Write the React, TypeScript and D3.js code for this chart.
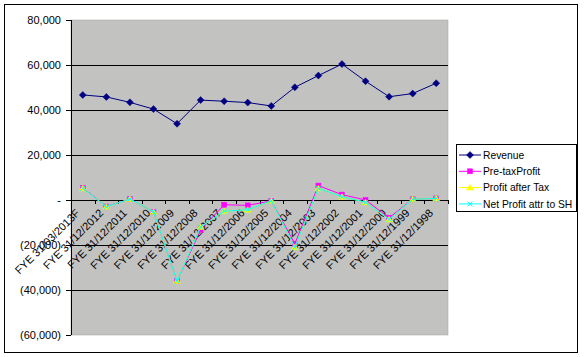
import React from "react";
import * as d3 from "d3";

const categories = [
  "FYE 31/03/2013F", "FYE 31/12/2012", "FYE 31/12/2011", "FYE 31/12/2010",
  "FYE 31/12/2009", "FYE 31/12/2008", "FYE 31/12/2007", "FYE 31/12/2006",
  "FYE 31/12/2005", "FYE 31/12/2004", "FYE 31/12/2003", "FYE 31/12/2002",
  "FYE 31/12/2001", "FYE 31/12/2000", "FYE 31/12/1999", "FYE 31/12/1998",
];
const revenue = [46700, 45800, 43400, 40400, 33900, 44400, 43900, 43300, 41800, 50100, 55300, 60400, 52800, 45900, 47300, 51900];
const preTaxProfit = [5400, -2900, 400, -5200, -36000, -13300, -2100, -2400, -400, -19400, 6400, 2400, 0, -7900, 300, 700];
const profitAfterTax = [5200, -3000, 400, -5200, -36000, -12000, -5000, -4300, -400, -21000, 5200, 1500, -1000, -8600, 300, 700];
const netProfitSH = [5200, -3000, 400, -5200, -36000, -12000, -5000, -4300, -400, -21000, 5200, 1500, -1000, -8600, 300, 700];
const yTicks = [80000, 60000, 40000, 20000, 0, -20000, -40000, -60000];

const seriesNames = ["Revenue", "Pre-taxProfit", "Profit after Tax", "Net Profit attr to SH"];
const seriesColors = ["#000080", "#FF00FF", "#FFFF00", "#00FFFF"];
const seriesMarkers = ["diamond", "square", "triangle", "x"];

const W = 584, H = 357;
const plot = { left: 71, right: 448, top: 20, bottom: 335 };

function Marker({ type, x, y, color }: { type: string; x: number; y: number; color: string }) {
  if (type === "diamond") {
    return <path d={`M${x},${y - 3.5}L${x + 3.5},${y}L${x},${y + 3.5}L${x - 3.5},${y}Z`} fill={color} stroke={color} strokeWidth={0.5} />;
  }
  if (type === "square") {
    return <rect x={x - 2.5} y={y - 2.5} width={5} height={5} fill={color} stroke={color} strokeWidth={0.5} />;
  }
  if (type === "triangle") {
    return <path d={`M${x},${y - 3}L${x + 3.5},${y + 2.5}L${x - 3.5},${y + 2.5}Z`} fill={color} stroke={color} strokeWidth={0.5} />;
  }
  return <path d={`M${x - 2.5},${y - 2.5}L${x + 2.5},${y + 2.5}M${x + 2.5},${y - 2.5}L${x - 2.5},${y + 2.5}`} stroke={color} strokeWidth={1} />;
}

export default function App() {
  const x = d3.scaleBand<string>().domain(categories).range([plot.left, plot.right]);
  const y = d3.scaleLinear().domain([-60000, 80000]).range([plot.bottom, plot.top]);
  const cx = (c: string) => (x(c) as number) + x.bandwidth() / 2;
  const allSeries = [revenue, preTaxProfit, profitAfterTax, netProfitSH];
  const line = d3.line<number>().x((_, i) => cx(categories[i])).y((d) => y(d));
  const fmt = (v: number) => {
    if (v === 0) return "-";
    const s = d3.format(",")(Math.abs(v));
    return v < 0 ? `(${s})` : s;
  };
  const font = "'Liberation Sans', Arial, sans-serif";
  const y0 = y(0);
  const bounds = d3.range(categories.length + 1).map((i) => plot.left + i * x.bandwidth());

  return (
    <svg width={W} height={H} style={{ position: "absolute", left: 0, top: 0 }} fontFamily={font}>
      <rect x={0} y={0} width={W} height={H} fill="#fff" />
      <rect x={4.5} y={4.5} width={573} height={348} fill="#fff" stroke="#000" strokeWidth={1} />
      <rect x={plot.left} y={plot.top} width={plot.right - plot.left} height={plot.bottom - plot.top} fill="#C2C2C0" stroke="#A0A0A0" strokeWidth={0.5} />
      {yTicks.filter((t) => t !== 80000 && t !== -60000 && t !== 0).map((t) => (
        <line key={t} x1={plot.left} x2={plot.right} y1={y(t) + 0.5} y2={y(t) + 0.5} stroke="#000" strokeWidth={1} />
      ))}
      <line x1={plot.left + 0.5} x2={plot.left + 0.5} y1={plot.top} y2={plot.bottom} stroke="#000" />
      {yTicks.map((t) => (
        <g key={t}>
          <line x1={plot.left - 5} x2={plot.left} y1={y(t) + 0.5} y2={y(t) + 0.5} stroke="#000" />
          <text x={61} y={y(t)} dy="0.35em" textAnchor="end" fontSize={11} fill="#000">{fmt(t)}</text>
        </g>
      ))}
      <line x1={plot.left} x2={plot.right} y1={y0 + 0.5} y2={y0 + 0.5} stroke="#000" />
      {bounds.map((b, i) => (
        <line key={i} x1={Math.round(b) + 0.5} x2={Math.round(b) + 0.5} y1={y0} y2={y0 + 4} stroke="#000" />
      ))}
      {categories.map((c) => (
        <text key={c} transform={`translate(${cx(c) - 5},${y0 + 11}) rotate(-45)`} textAnchor="end" dy="0.35em" fontSize={11} fill="#000">{c}</text>
      ))}
      {allSeries.map((s, si) => (
        <g key={si}>
          <path d={line(s) || ""} fill="none" stroke={seriesColors[si]} strokeWidth={1} />
          {s.map((v, i) => (
            <Marker key={i} type={seriesMarkers[si]} x={cx(categories[i])} y={y(v)} color={seriesColors[si]} />
          ))}
        </g>
      ))}
      <rect x={456.5} y={144.5} width={120} height={67} fill="#fff" stroke="#000" strokeWidth={1} />
      {seriesNames.map((n, i) => {
        const ly = 155 + i * 16.3;
        return (
          <g key={n}>
            <line x1={459} x2={481} y1={ly} y2={ly} stroke={seriesColors[i]} strokeWidth={1} />
            <Marker type={seriesMarkers[i]} x={470} y={ly} color={seriesColors[i]} />
            <text x={483} y={ly} dy="0.35em" fontSize={10.3} fill="#000">{n}</text>
          </g>
        );
      })}
    </svg>
  );
}
